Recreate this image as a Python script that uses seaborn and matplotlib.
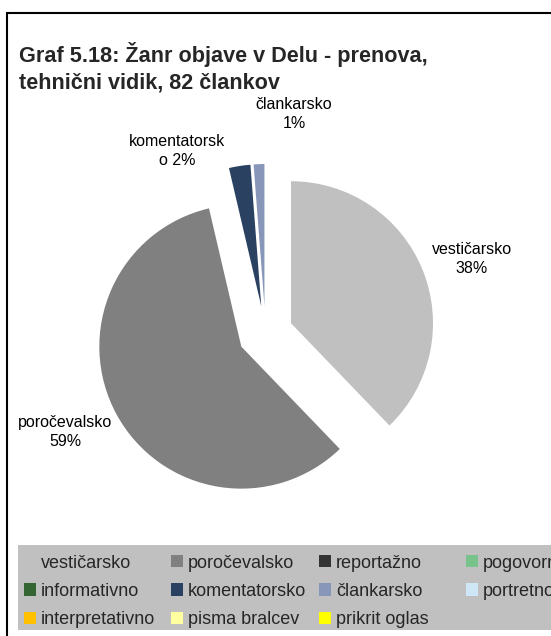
import matplotlib
matplotlib.use("Agg")
import matplotlib.pyplot as plt
from matplotlib.patches import Rectangle, Patch
import seaborn as sns

# ---- data ----
categories = ["vestičarsko", "poročevalsko", "reportažno", "pogovorno",
              "informativno", "komentatorsko", "člankarsko", "portretno",
              "interpretativno", "pisma bralcev", "prikrit oglas"]
counts = [31, 48, 0, 0, 0, 2, 1, 0, 0, 0, 0]
colors = ["#c0c0c0", "#808080", "#333333", "#77c38b", "#336633", "#2b4162",
          "#8896b9", "#cfe6f7", "#ffc000", "#ffffa0", "#ffff00"]
title_lines = ["Graf 5.18: Žanr objave v Delu - prenova,",
               "tehnični vidik, 82 člankov"]
# label names as shown on the chart (with Excel's wrapping)
label_names = {"vestičarsko": "vestičarsko\n", "poročevalsko": "poročevalsko\n",
               "komentatorsko": "komentatorsk\no ", "člankarsko": "člankarsko\n"}
# label centres in image pixel coords
label_pos = {"vestičarsko": (472, 259), "poročevalsko": (65, 432),
             "komentatorsko": (177, 151), "člankarsko": (294, 114)}

sns.set_theme(style="white")
plt.rcParams["font.family"] = ["Liberation Sans", "DejaVu Sans"]

W, H = 551, 636
fig = plt.figure(figsize=(W / 100, H / 100), dpi=100)
ax = fig.add_axes([0, 0, 1, 1])

nz = [i for i, c in enumerate(counts) if c > 0]
vals = [counts[i] for i in nz]
total = sum(counts)
ax.pie(vals, colors=[colors[i] for i in nz], startangle=90, counterclock=False,
       explode=[27.5] * len(vals), radius=142, center=(265.5, H - 333.5),
       wedgeprops=dict(linewidth=0))

for i in nz:
    name = categories[i]
    pct = f"{round(100 * counts[i] / total)}%"
    x, y = label_pos[name]
    ax.text(x, H - y, label_names[name] + pct, ha="center", va="center",
            fontsize=11.5, linespacing=1.3, color="black")

ax.text(19, H - 62, title_lines[0], fontsize=15.6, fontweight="bold", va="baseline")
ax.text(19, H - 89, title_lines[1], fontsize=15.6, fontweight="bold", va="baseline")

# outer frame
ax.add_patch(Rectangle((7, -20), W + 20, H - 13 + 20, fill=False, lw=1.5,
                       ec="black", clip_on=False))
# legend background
ax.add_patch(Rectangle((18, H - 630), W, 85, fc="#c0c0c0", ec="none"))

cols = [[0, 4, 8], [1, 5, 9], [2, 6, 10], [3, 7]]
xs = [24, 171, 319, 466]
legends = []
for j, col in enumerate(cols):
    handles = [Patch(fc=colors[i], ec="none", label=categories[i]) for i in col]
    leg = ax.legend(handles=handles, loc="upper left",
                    bbox_to_anchor=(xs[j], H - 554.5), bbox_transform=ax.transData,
                    frameon=False, fontsize=13, handlelength=0.67,
                    handleheight=0.67, handletextpad=0.28, labelspacing=0.63,
                    borderpad=0, borderaxespad=0)
    legends.append(leg)
for leg in legends[:-1]:
    ax.add_artist(leg)

ax.set_xlim(0, W)
ax.set_ylim(0, H)
ax.set_aspect("auto")
ax.axis("off")
fig.savefig("out.png", dpi=100, facecolor="white")
